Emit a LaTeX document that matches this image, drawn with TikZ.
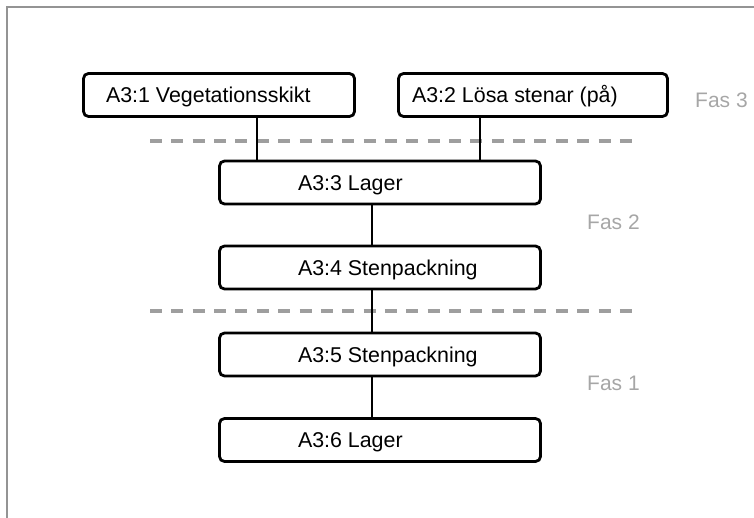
\documentclass[tikz,border=0pt]{standalone}
\usepackage{fontspec}
\setmainfont{Liberation Sans}
\begin{document}
\begin{tikzpicture}[x=1pt,y=-1pt,
  layerbox/.style={draw=black, line width=2.8pt, rounded corners=5pt, fill=white,
    inner sep=0pt, minimum height=43pt, text height=15.3pt, text depth=0pt,
    font=\fontsize{21.4}{25}\selectfont},
  link/.style={draw=black, line width=2.8pt},
  phase/.style={anchor=base west, inner sep=0pt, text=black!35,
    font=\fontsize{21}{25}\selectfont},
  divider/.style={draw=black!38, line width=4pt, dash pattern=on 12pt off 9.36pt},
  frame/.style={draw=black!42, line width=1.4pt}]
\useasboundingbox (0,0) rectangle (754,518);

% outer frame (top and left edges only)
\draw[frame] (7,518) -- (7,7) -- (754,7);

% phase dividers
\draw[divider] (150,141) -- (632,141);
\draw[divider] (150,311) -- (632,311);

% layer boxes
\node[layerbox, minimum width=271pt] (b1) at (219,95)
  {\makebox[271pt][l]{\hspace*{22.5pt}A3:1 Vegetationsskikt}};
\node[layerbox, minimum width=269pt] (b2) at (533,95)
  {\makebox[269pt][l]{\hspace*{13.5pt}A3:2 Lösa stenar (på)}};
\node[layerbox, minimum width=321pt] (b3) at (380,182.5)
  {\makebox[321pt][l]{\hspace*{78.5pt}A3:3 Lager}};
\node[layerbox, minimum width=321pt] (b4) at (380,267.5)
  {\makebox[321pt][l]{\hspace*{78.5pt}A3:4 Stenpackning}};
\node[layerbox, minimum width=321pt] (b5) at (380,354.5)
  {\makebox[321pt][l]{\hspace*{78.5pt}A3:5 Stenpackning}};
\node[layerbox, minimum width=321pt] (b6) at (380,440)
  {\makebox[321pt][l]{\hspace*{78.5pt}A3:6 Lager}};

% connectors between the layers
\draw[link] ([xshift=38pt]b1.south) -- ([xshift=38pt]b1.south |- b3.north);
\draw[link] ([xshift=-53pt]b2.south) -- ([xshift=-53pt]b2.south |- b3.north);
\draw[link] ([xshift=-8pt]b3.south) -- ([xshift=-8pt]b3.south |- b4.north);
\draw[link] ([xshift=-8pt]b4.south) -- ([xshift=-8pt]b4.south |- b5.north);
\draw[link] ([xshift=-8pt]b5.south) -- ([xshift=-8pt]b5.south |- b6.north);

% phase labels
\node[phase] (f3) at (695,107.5) {Fas 3};
\node[phase] (f2) at (587,229.5) {Fas 2};
\node[phase] (f1) at (587,390.5) {Fas 1};
\end{tikzpicture}
\end{document}
